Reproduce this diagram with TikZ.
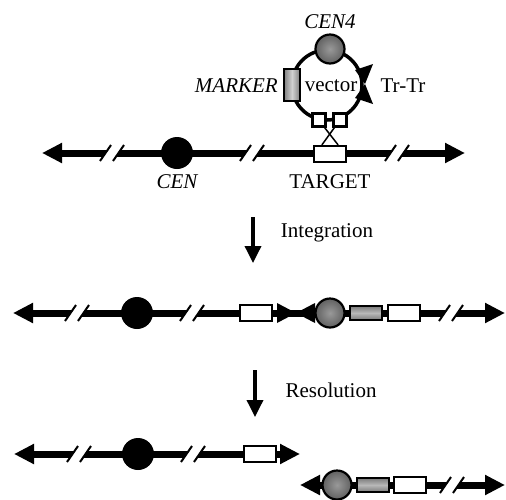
\documentclass[tikz,border=0pt]{standalone}
\usepackage{fontspec}
\setmainfont{Liberation Serif}
\usetikzlibrary{arrows.meta,calc}
\tikzset{
  chrom/.style={line width=7pt,{Triangle[length=20pt,width=19pt]}-{Triangle[length=20pt,width=19pt]}},
  cen/.style={circle,fill=black,minimum size=32pt,inner sep=0pt},
  cenball/.style={circle,draw,line width=2.2pt,inner color=black!40,outer color=black!62,minimum size=29pt,inner sep=0pt},
  wbox/.style={draw,line width=2.2pt,fill=white,minimum width=32pt,minimum height=16pt,inner sep=0pt},
  gbox/.style={draw,line width=2.2pt,top color=black!52,bottom color=black!52,middle color=black!28,minimum width=32pt,minimum height=14pt,inner sep=0pt},
  mbox/.style={draw,line width=2.2pt,left color=black!50,right color=black!50,middle color=black!18,minimum width=16pt,minimum height=32pt,inner sep=0pt},
  sq/.style={draw,line width=2.2pt,fill=white,minimum size=13pt,inner sep=0pt},
  lbl/.style={font=\fontsize{21}{24}\selectfont,inner sep=0pt},
  lbli/.style={lbl,font=\fontsize{21}{24}\selectfont\itshape},
  down/.style={line width=3.5pt,-{Triangle[length=17pt,width=16pt]}},
}
\begin{document}
\begin{tikzpicture}[x=1pt,y=-1pt]
    \useasboundingbox (0,0) rectangle (506,499);
    % chromosomes
    \coordinate (l1) at (42,153);
    \coordinate (r1) at (465,153);
    \coordinate (l2) at (13,313);
    \coordinate (r2) at (505,313);
    \coordinate (l3) at (14,454);
    \coordinate (r3) at (300,454);
    \coordinate (l4) at (300,485);
    \coordinate (r4) at (505,485);
    \draw[chrom] (l1) -- (r1);
    \draw[chrom] (l2) -- (r2);
    \draw[chrom] (l3) -- (r3);
    \draw[chrom] (l4) -- (r4);
    \foreach \bx/\by in {112/153,252/153,397/153,77/313,192/313,451/313,79/454,193/454,452/485} {
      \fill[white,shift={(\bx,\by)}] (-12,8) -- (-1,-8) -- (12,-8) -- (1,8) -- cycle;
      \draw[line width=2pt,shift={(\bx,\by)}] (-12,8) -- (-1,-8) (1,8) -- (12,-8);
    }
    % vector
    \coordinate (vc) at (327,85);
    \draw[line width=3.5pt] (vc) circle (35pt);
    \fill (355,70) -- (373,64) -- (365,84) -- cycle;
    \fill (355,98) -- (373,104) -- (365,84) -- cycle;
    \node[mbox] (mrk) at (292,85) {};
    \node[cenball] (c4) at (330,49) {};
    \node[sq] (lsq) at (319,120) {};
    \node[sq] (rsq) at (340,120) {};
    \node[cen] (cen1) at (177,153) {};
    \node[wbox] (tgt1) at (330,154) {};
    \draw[line width=1.5pt] ([xshift=-2pt]lsq.south east) -- ([xshift=-9pt]tgt1.north east);
    \draw[line width=1.5pt] ([xshift=2pt]rsq.south west) -- ([xshift=9pt]tgt1.north west);
    \node[lbli] at (330,22) {CEN4};
    \node[lbli,anchor=east] at (278,86) {MARKER};
    \node[lbl] at (331,86) {vector};
    \node[lbl] at (403,86) {Tr-Tr};
    \node[lbli] at (177,182) {CEN};
    \node[lbl] at (330,182) {TARGET};
    % integration
    \coordinate (a1s) at (253,217);
    \coordinate (a1e) at (253,263);
    \draw[down] (a1s) -- (a1e);
    \node[lbl] at (327,233) {Integration};
    \node[cen] (cen2) at (137,313) {};
    \node[wbox] (tgt2a) at (256,313) {};
    \fill (277,303) -- (277,323) -- (296,313) -- cycle;
    \fill (315,303) -- (315,323) -- (296,313) -- cycle;
    \node[cenball] (c4b) at (330,313) {};
    \node[gbox] (mrk2) at (366,313) {};
    \node[wbox] (tgt2b) at (404,313) {};
    % resolution
    \coordinate (a2s) at (255,370);
    \coordinate (a2e) at (255,417);
    \draw[down] (a2s) -- (a2e);
    \node[lbl] at (331,390) {Resolution};
    \node[cen] (cen3) at (138,454) {};
    \node[wbox] (tgt3) at (260,454) {};
    \node[cenball] (c4c) at (337,485) {};
    \node[gbox] (mrk4) at (373,485) {};
    \node[wbox] (tgt4) at (410,485) {};
\end{tikzpicture}
\end{document}
